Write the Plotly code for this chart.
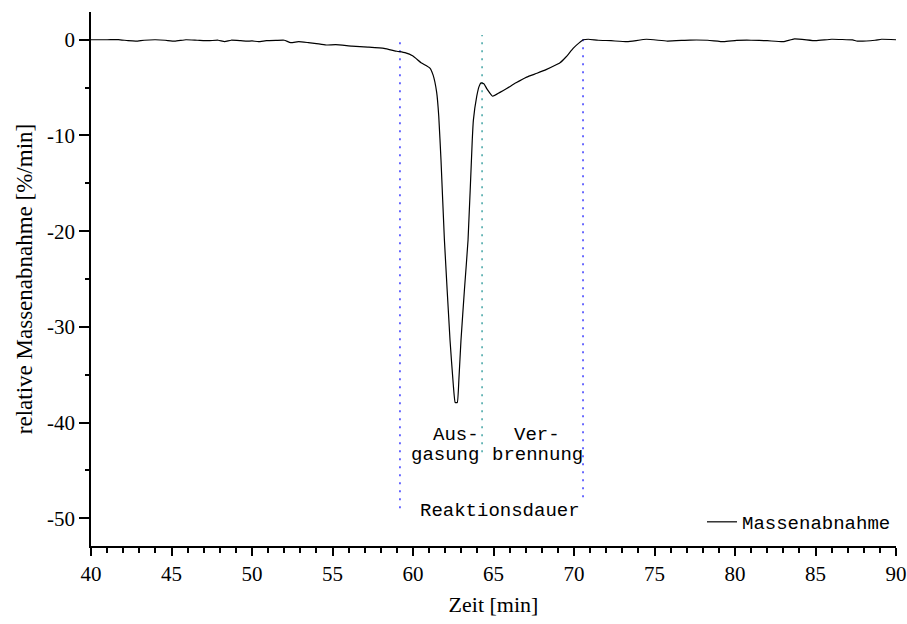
import plotly.graph_objects as go

# --- data ---
zeit = [40.0, 41.0, 41.7, 42.3, 42.8, 43.3, 44.0, 44.6, 45.2, 45.9, 46.6, 47.3, 47.9, 48.3,
        48.7, 49.3, 49.7, 50.0, 50.4, 50.9, 51.5, 52.0, 52.4, 52.9, 53.5, 54.0, 54.6, 55.2,
        56.2, 57.2, 58.2, 59.0, 59.5, 60.0, 60.5, 61.05, 61.25, 61.47, 61.6, 61.74, 61.95,
        62.3, 62.5, 62.62, 62.75, 62.85, 62.98, 63.2, 63.42, 63.68, 63.75, 63.96, 64.1,
        64.22, 64.4, 64.58, 64.95, 65.4, 65.82, 66.4, 67.06, 67.7, 68.3, 68.8, 69.13, 69.5,
        69.96, 70.3, 70.58, 70.89, 71.5, 72.3, 73.3, 74.5, 75.8, 77.2, 78.3, 79.3, 80.1,
        81.0, 82.0, 83.0, 83.7, 85.0, 86.0, 87.3, 87.6, 88.7, 89.1, 90.0]
massenabnahme = [0.0, 0.0, 0.02, -0.1, -0.15, -0.05, 0.0, -0.05, -0.15, 0.0, -0.05, -0.1,
                 -0.05, -0.2, -0.05, -0.1, -0.15, -0.12, -0.2, -0.1, -0.07, -0.05, -0.3,
                 -0.2, -0.3, -0.4, -0.55, -0.5, -0.66, -0.77, -0.9, -1.2, -1.35, -1.7, -2.4,
                 -2.96, -3.7, -5.5, -8.0, -12.6, -20.9, -31.4, -36.0, -37.9, -37.9, -35.5,
                 -31.4, -26.0, -20.9, -10.5, -8.4, -5.9, -4.9, -4.5, -4.6, -5.1, -5.9, -5.5,
                 -5.1, -4.5, -3.9, -3.5, -3.1, -2.7, -2.4, -1.8, -0.87, -0.35, 0.0, 0.05,
                 -0.05, -0.1, -0.2, 0.05, -0.14, -0.03, -0.05, -0.2, -0.07, -0.05, -0.1,
                 -0.2, 0.1, -0.1, 0.05, -0.02, -0.14, -0.05, 0.05, 0.0]

x_ticks = [40, 45, 50, 55, 60, 65, 70, 75, 80, 85, 90]
y_ticks = [0, -10, -20, -30, -40, -50]
y_ticklabels = ["0", "-10", "-20", "-30", "-40", "-50"]

# phase boundaries (time) and their vertical extents
grenze_x = [59.19, 64.29, 70.56]
grenze_y0 = [-48.95, -43.1, -47.8]
grenze_y1 = [0.0, 0.5, 0.4]
grenze_farbe = ["#3a3aff", "#3fa3a3", "#3a3aff"]

beschriftung = ["Aus-", "gasung", "Ver-", "brennung", "Reaktionsdauer"]
beschr_x = [64.25, 64.25, 67.72, 67.72, 65.4]
beschr_y = [-41.3, -43.4, -41.3, -43.4, -49.2]
beschr_anchor = ["right", "right", "center", "center", "center"]

mono = "Liberation Mono, Courier New, monospace"
serif = "Liberation Serif, Times New Roman, serif"

fig = go.Figure()

for gx, g0, g1, gc in zip(grenze_x, grenze_y0, grenze_y1, grenze_farbe):
    fig.add_trace(go.Scatter(x=[gx, gx], y=[g0, g1], mode="lines",
                             line=dict(color=gc, width=1.5, dash="2px,6px"),
                             showlegend=False, hoverinfo="skip"))

fig.add_trace(go.Scatter(x=zeit, y=massenabnahme, mode="lines", name="Massenabnahme",
                         line=dict(color="black", width=1.2, shape="spline",
                                   smoothing=0.4)))

for t, bx, by, ba in zip(beschriftung, beschr_x, beschr_y, beschr_anchor):
    fig.add_annotation(x=bx, y=by, text=t, showarrow=False, xanchor=ba, yanchor="middle",
                       font=dict(family=mono, size=19, color="black"))

fig.update_layout(
    width=907, height=624,
    margin=dict(l=91, r=11, t=12, b=78, autoexpand=False),
    paper_bgcolor="white", plot_bgcolor="white",
    showlegend=True,
    legend=dict(x=0.759, y=0.045, xanchor="left", yanchor="middle",
                bgcolor="rgba(0,0,0,0)", borderwidth=0,
                font=dict(family=mono, size=19, color="black")),
    font=dict(family=serif, color="black"),
)

fig.update_xaxes(
    range=[40, 90], tickvals=x_ticks, ticks="outside", ticklen=8, tickwidth=1.5,
    tickcolor="black", showline=True, linecolor="black", linewidth=1.5,
    showgrid=False, zeroline=False, mirror=False, automargin=False,
    tickfont=dict(family=serif, size=21, color="black"),
    minor=dict(dtick=1, ticks="outside", ticklen=5, tickwidth=1.5, tickcolor="black",
               showgrid=False),
    title=dict(text="Zeit [min]", font=dict(family=serif, size=22, color="black"),
               standoff=12),
)
fig.update_yaxes(
    range=[-52.9, 2.9], tickvals=y_ticks, ticktext=y_ticklabels, ticks="outside",
    ticklen=10, tickwidth=1.5, tickcolor="black", showline=True, linecolor="black",
    linewidth=1.5, showgrid=False, zeroline=False, mirror=False, automargin=False,
    tickfont=dict(family=serif, size=21, color="black"),
    minor=dict(dtick=5, ticks="outside", ticklen=4, tickwidth=1.5, tickcolor="black",
               showgrid=False),
    title=dict(text="relative Massenabnahme [%/min]",
               font=dict(family=serif, size=23, color="black"), standoff=8),
)

fig.write_html("out.html", config={"displayModeBar": False},
               post_script="document.body.style.margin='0';")
